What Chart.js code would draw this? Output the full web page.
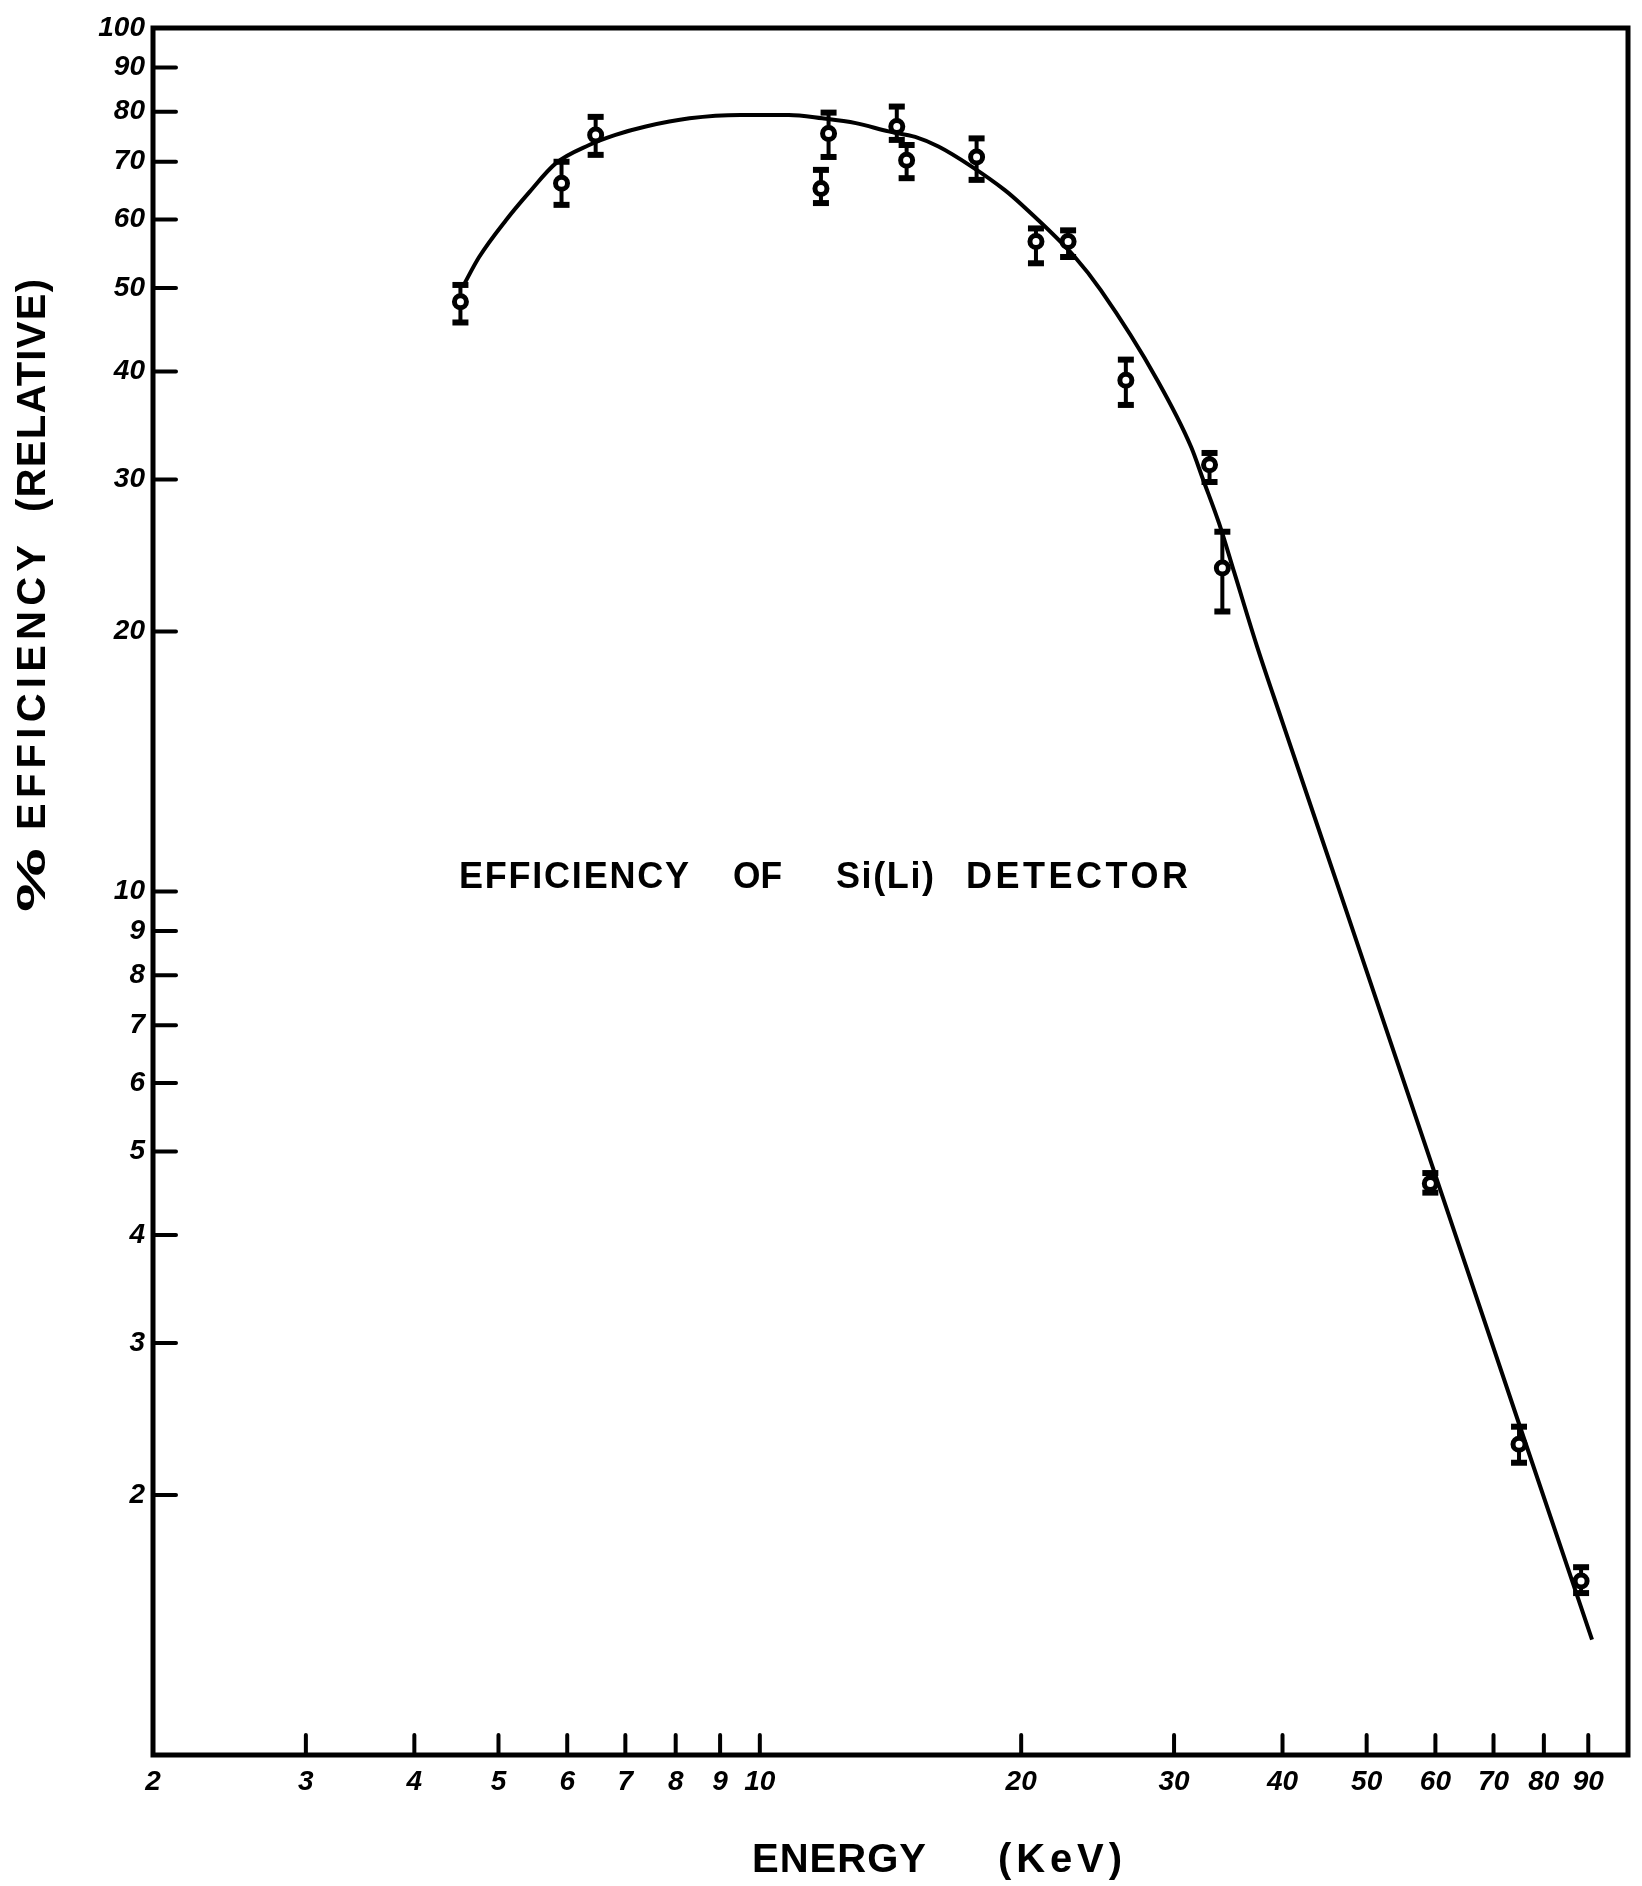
<!DOCTYPE html>
<html><head><meta charset="utf-8">
<script src="https://cdn.jsdelivr.net/npm/chart.js@4.4.1/dist/chart.umd.min.js"></script>
<style>html,body{margin:0;padding:0;background:#fff;} canvas{display:block;}</style>
</head><body>
<canvas id="c" width="1642" height="1886"></canvas>
<script>
// Measured points (energy keV, % efficiency relative) with error bar limits
const energy     = [4.52, 5.91, 6.47, 11.76, 12.0, 14.38, 14.76, 17.77, 20.8, 22.65, 26.4, 32.96, 34.1, 59.2, 74.9, 88.3];
const efficiency = [48.2, 66.1, 75.2, 65.2, 75.5, 76.9, 70.3, 70.9, 56.6, 56.6, 39.1, 31.2, 23.7, 4.59, 2.29, 1.59];
const errLow     = [45.6, 62.4, 71.3, 62.7, 70.9, 74.2, 67.0, 66.7, 53.4, 54.3, 36.6, 29.8, 21.1, 4.48, 2.18, 1.54];
const errHigh    = [50.4, 70.0, 78.9, 68.5, 79.8, 81.1, 73.2, 74.5, 58.6, 58.3, 41.3, 32.2, 26.1, 4.72, 2.40, 1.65];
// Hand-drawn fitted curve
const curveEnergy     = [4.55, 4.75, 5.10, 5.43, 5.82, 6.36, 6.82, 7.39, 8.3, 9.5, 10.8, 11.8, 12.9, 14.07, 15.1, 16.06, 17.54, 19.15, 20.0, 23.06, 24.7, 28.7, 31.4, 32.4, 33.8, 35.2, 37.4, 40.0, 47.3, 58.2, 75.2, 90.9];
const curveEfficiency = [50.2, 54.3, 59.9, 64.6, 69.7, 73.2, 75.2, 76.9, 78.6, 79.3, 79.3, 78.6, 77.6, 75.9, 74.8, 72.9, 69.1, 64.9, 62.5, 54.3, 49.7, 39.1, 32.7, 30.0, 26.7, 23.4, 19.2, 15.7, 9.54, 5.14, 2.39, 1.36];
// Tick labels
const xTicks = [2, 3, 4, 5, 6, 7, 8, 9, 10, 20, 30, 40, 50, 60, 70, 80, 90];
const yTicks = [2, 3, 4, 5, 6, 7, 8, 9, 10, 20, 30, 40, 50, 60, 70, 80, 90, 100];
const xTitleWords = ['ENERGY', '(KeV)'];
const yTitleWords = ['%', 'EFFICIENCY', '(RELATIVE)'];
const noteWords = ['EFFICIENCY', 'OF', 'Si(Li)', 'DETECTOR'];

const points = energy.map((e, i) => ({x: e, y: efficiency[i]}));
const errData = [];
energy.forEach((e, i) => { errData.push({x: e, y: errLow[i]}, {x: e, y: errHigh[i]}, {x: e, y: null}); });
const curve = curveEnergy.map((e, i) => ({x: e, y: curveEfficiency[i]}));

function fitText(ctx, text, x0, x1, font) {
  ctx.font = font;
  const target = x1 - x0;
  const w = ctx.measureText(text).width;
  const n = text.length;
  if ('letterSpacing' in ctx && n > 1 && w < target) {
    ctx.letterSpacing = ((target - w) / (n - 1)) + 'px';
    ctx.fillText(text, x0, 0);
    ctx.letterSpacing = '0px';
  } else {
    ctx.save();
    ctx.translate(x0, 0);
    ctx.scale(target / w, 1);
    ctx.fillText(text, 0, 0);
    ctx.restore();
  }
}

const decor = {
  id: 'decor',
  afterDraw(chart) {
    const ctx = chart.ctx, a = chart.chartArea;
    const xs = chart.scales.x, ys = chart.scales.y;
    ctx.save();
    ctx.strokeStyle = '#000';
    ctx.lineCap = 'round';
    // inward ticks
    ctx.lineWidth = 4;
    yTicks.forEach(v => {
      if (v >= 100) return;
      const py = ys.getPixelForValue(v);
      ctx.beginPath(); ctx.moveTo(a.left, py); ctx.lineTo(a.left + 23, py); ctx.stroke();
    });
    xTicks.forEach(v => {
      if (v <= 2) return;
      const px = xs.getPixelForValue(v);
      ctx.beginPath(); ctx.moveTo(px, a.bottom); ctx.lineTo(px, a.bottom - 20); ctx.stroke();
    });
    // frame
    ctx.lineWidth = 5;
    ctx.lineCap = 'butt';
    ctx.strokeRect(a.left, a.top, a.right - a.left, a.bottom - a.top);
    // texts
    ctx.fillStyle = '#000';
    ctx.textBaseline = 'middle';
    ctx.textAlign = 'left';
    const f = 'bold 36px "Liberation Sans", Arial, sans-serif';
    // annotation
    const noteSpans = [[459, 689], [733, 782], [836, 934], [966, 1188]];
    ctx.save(); ctx.translate(0, 878);
    noteWords.forEach((w, i) => fitText(ctx, w, noteSpans[i][0], noteSpans[i][1], f));
    ctx.restore();
    // x title
    const xSpans = [[752, 926], [998, 1122]];
    ctx.save(); ctx.translate(0, 1861);
    xTitleWords.forEach((w, i) => fitText(ctx, w, xSpans[i][0], xSpans[i][1], 'bold 40px "Liberation Sans", Arial, sans-serif'));
    ctx.restore();
    // y title (rotated)
    const ySpans = [[848, 912], [545, 830], [279, 512]];
    ctx.save(); ctx.translate(34, 0); ctx.rotate(-Math.PI / 2);
    yTitleWords.forEach((w, i) => fitText(ctx, w, -ySpans[i][1], -ySpans[i][0], 'bold 40px "Liberation Sans", Arial, sans-serif'));
    ctx.restore();
    ctx.restore();
  }
};

const tickFont = {family: '"Liberation Sans", Arial, sans-serif', size: 28, weight: 'bold', style: 'italic'};

new Chart(document.getElementById('c'), {
  type: 'scatter',
  data: {
    datasets: [
      { label: 'measured', data: points, pointStyle: 'circle', pointRadius: 6, pointBorderWidth: 5,
        borderColor: '#000', backgroundColor: '#fff', pointBackgroundColor: '#fff', pointBorderColor: '#000' },
      { label: 'error', data: errData, showLine: true, spanGaps: false, borderColor: '#000', borderWidth: 4,
        pointStyle: 'line', pointRadius: 8, pointBorderWidth: 6, pointBorderColor: '#000', tension: 0 },
      { label: 'curve', data: curve, showLine: true, borderColor: '#000', borderWidth: 4, pointRadius: 0,
        cubicInterpolationMode: 'monotone' }
    ]
  },
  options: {
    responsive: false, animation: false, devicePixelRatio: 1,
    layout: {padding: {top: 28, right: 10, left: 0, bottom: 0}},
    plugins: {legend: {display: false}, tooltip: {enabled: false}},
    scales: {
      x: {
        type: 'logarithmic', min: 2, max: 100, position: 'bottom',
        grid: {display: false, drawTicks: false}, border: {display: false},
        afterBuildTicks: s => { s.ticks = xTicks.map(v => ({value: v})); },
        afterFit: s => { s.height = 131; },
        ticks: {autoSkip: false, maxRotation: 0, minRotation: 0, padding: 10, color: '#000', font: tickFont,
          callback: v => xTicks.includes(v) ? String(v) : ''}
      },
      y: {
        type: 'logarithmic', min: 1, max: 100, position: 'left',
        grid: {display: false, drawTicks: false}, border: {display: false},
        afterBuildTicks: s => { s.ticks = yTicks.map(v => ({value: v})); },
        afterFit: s => { s.width = 153; },
        ticks: {autoSkip: false, padding: 8, color: '#000', font: tickFont,
          callback: v => yTicks.includes(v) ? String(v) : ''}
      }
    }
  },
  plugins: [decor]
});
</script>
</body></html>
